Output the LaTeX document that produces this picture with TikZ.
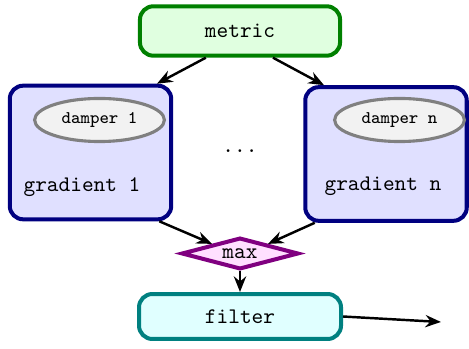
\documentclass[tikz,border=0pt]{standalone}
\usetikzlibrary{arrows.meta,shapes.geometric}
\definecolor{metricdraw}{HTML}{008000}
\definecolor{metricfill}{HTML}{E0FFE0}
\definecolor{graddraw}{HTML}{000080}
\definecolor{gradfill}{HTML}{E0E0FF}
\definecolor{maxdraw}{HTML}{800080}
\definecolor{maxfill}{HTML}{FFE0FF}
\definecolor{filterdraw}{HTML}{008080}
\definecolor{filterfill}{HTML}{E0FFFF}
\tikzstyle{box}=[draw,rounded corners=6pt,line width=1.8pt,font=\ttfamily]
\tikzstyle{gradbox}=[box,draw=graddraw,fill=gradfill,minimum width=2.55cm,minimum height=2.11cm]
\tikzstyle{damper}=[ellipse,draw=gray,fill=black!5,line width=1.4pt,minimum width=2.05cm,minimum height=0.68cm,font=\ttfamily\footnotesize]
\tikzstyle{merge}=[diamond,aspect=3.6,draw=maxdraw,fill=maxfill,line width=1.8pt,minimum width=1.85cm,minimum height=0.5cm,inner sep=0pt,font=\ttfamily]
\tikzstyle{arrowedge}=[draw,line width=1.1pt,-{Stealth[length=7pt,width=5.5pt]}]
\begin{document}
\begin{tikzpicture}[x=0.0158cm,y=-0.0158cm]
    \useasboundingbox (0,0) rectangle (469,349);
    % top and bottom of the chain
    \node[box,draw=metricdraw,fill=metricfill,minimum width=3.16cm,minimum height=0.78cm] (metric) at (240,31) {metric};
    \node[box,draw=filterdraw,fill=filterfill,minimum width=3.19cm,minimum height=0.71cm] (filter) at (240,316.5) {filter};
    \node[merge] (max) at (240,253.5) {max};

    % the gradient boxes with their dampers
    \foreach \pos/\dpos/\lpos/\name/\label in {{(90.5,152.5)/(99.5,120)/(82,187)/grad1/1}, {(386,154)/(399.5,120)/(383,186)/gradn/n}}
    {
        \node[gradbox] (\name) at \pos {};
        \node[damper] (\name-damper) at \dpos {damper \label};
        \node[font=\ttfamily] (\name-label) at \lpos {gradient \label};
    }
    \node[font=\ttfamily] (dots) at (240,151) {...};
    \coordinate (out) at (441,322);

    % connect the boxes
    \foreach \source/\dest in {metric.218/grad1.46, metric.321/gradn.132, grad1.315/max.161, gradn.224/max.19, max.south/filter.north, filter.east/out}
        \path[arrowedge] (\source) -- (\dest);
\end{tikzpicture}
\end{document}
